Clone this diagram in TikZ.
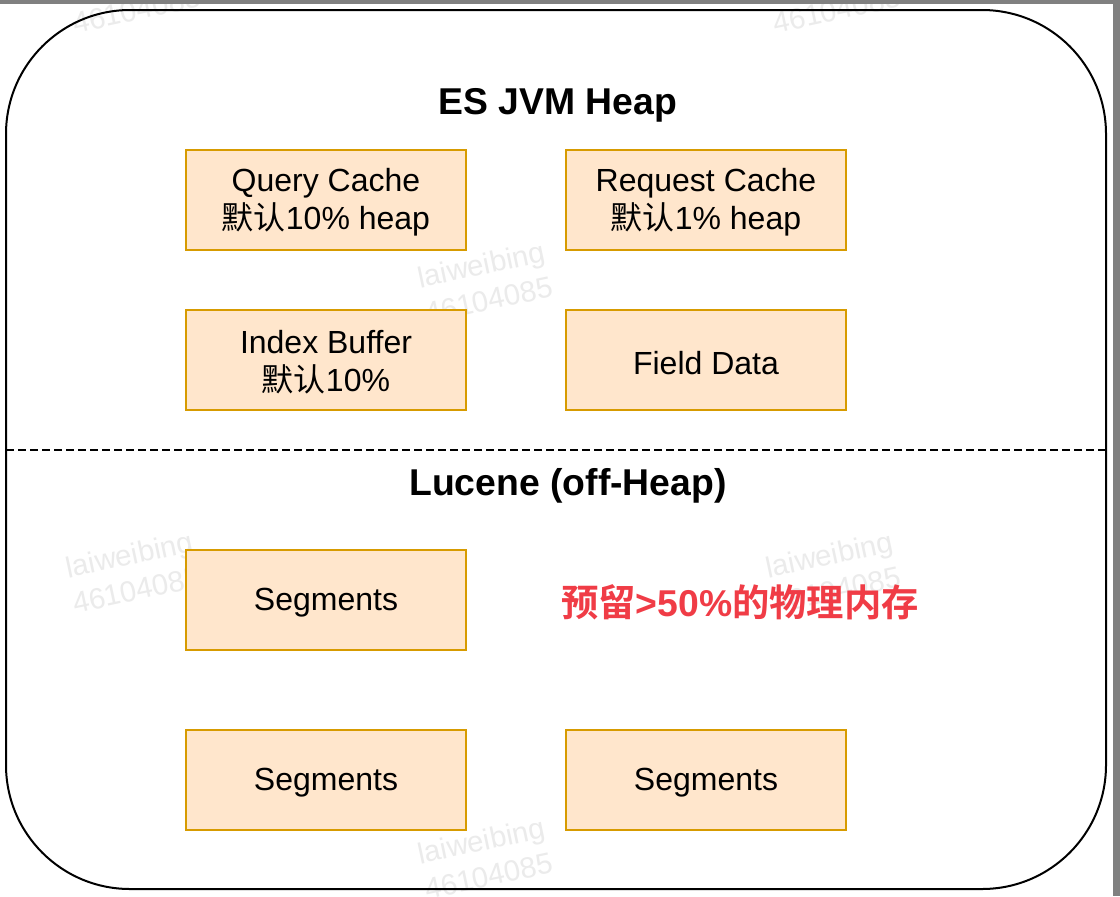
\documentclass[tikz,border=0pt]{standalone}
\usepackage{fontspec}
\setmainfont{Liberation Sans}
\newfontfamily\cjk{Noto Sans CJK SC}
\newfontfamily\cjkb{Noto Sans CJK SC Bold}
\definecolor{boxfill}{HTML}{FFE6CC}
\definecolor{boxline}{HTML}{D79B00}
\definecolor{redtxt}{HTML}{F03C46}
\definecolor{wm}{HTML}{EBEBEB}
\definecolor{frame}{HTML}{808080}
\begin{document}
\begin{tikzpicture}[x=0.75pt,y=-0.75pt,
  membox/.style={draw=boxline, fill=boxfill, line width=1.5pt, minimum width=210pt, minimum height=75pt, inner sep=0pt},
  boxtext/.style={inner sep=0pt, align=center, font=\fontsize{24}{28.5}\selectfont},
  title/.style={font=\fontsize{28}{33}\selectfont\bfseries},
  wmark/.style={text=wm, rotate=12, align=center, font=\fontsize{22}{27}\selectfont}]
\useasboundingbox (0,0) rectangle (1120,896);
\fill[white] (0,0) rectangle (1120,896);
% watermarks
\node[wmark] (w1) at (485,282) {laiweibing\\46104085};
\node[wmark] (w2) at (133,572) {laiweibing\\46104085};
\node[wmark] (w3) at (833,572) {laiweibing\\46104085};
\node[wmark] (w4) at (485,858) {laiweibing\\46104085};
\node[wmark] (w5) at (133,-8) {laiweibing\\46104085};
\node[wmark] (w6) at (833,-8) {laiweibing\\46104085};
% outer container
\node[draw, line width=1.5pt, rounded corners=93pt, minimum width=825pt, minimum height=659.25pt, inner sep=0pt] (outer) at (556,449.5) {};
\coordinate (dl) at (6,450);
\coordinate (dr) at (1106,450);
\draw[line width=1.5pt, dash pattern=on 6pt off 3pt] (dl) -- (dr);
% titles
\node[title] (t1) at (558,105) {ES JVM Heap};
\node[title] (t2) at (568,486) {Lucene (off-Heap)};
% boxes
\node[membox] (qc) at (326,200) {};
\node[membox] (rc) at (706,200) {};
\node[membox] (ib) at (326,360) {};
\node[membox] (fd) at (706,360) {};
\node[membox] (s1) at (326,600) {};
\node[membox] (s2) at (326,780) {};
\node[membox] (s3) at (706,780) {};
\node[boxtext] (qct) at ([yshift=-2pt]qc.center) {Query Cache\\{\cjk 默认}10\% heap};
\node[boxtext] (rct) at ([yshift=-2pt]rc.center) {Request Cache\\{\cjk 默认}1\% heap};
\node[boxtext] (ibt) at ([yshift=-2pt]ib.center) {Index Buffer\\{\cjk 默认}10\%};
\node[boxtext] (fdt) at ([yshift=-2pt]fd.center) {Field Data};
\node[boxtext] (s1t) at ([yshift=-2pt]s1.center) {Segments};
\node[boxtext] (s2t) at ([yshift=-2pt]s2.center) {Segments};
\node[boxtext] (s3t) at ([yshift=-2pt]s3.center) {Segments};
\node[text=redtxt, font=\fontsize{28}{33}\selectfont] (note) at (740,602) {{\cjkb 预留}\textbf{>50\%}{\cjkb 的物理内存}};
% screenshot frame
\fill[frame] (0,0) rectangle (1120,4);
\fill[frame] (1113,0) rectangle (1120,896);
\end{tikzpicture}
\end{document}
